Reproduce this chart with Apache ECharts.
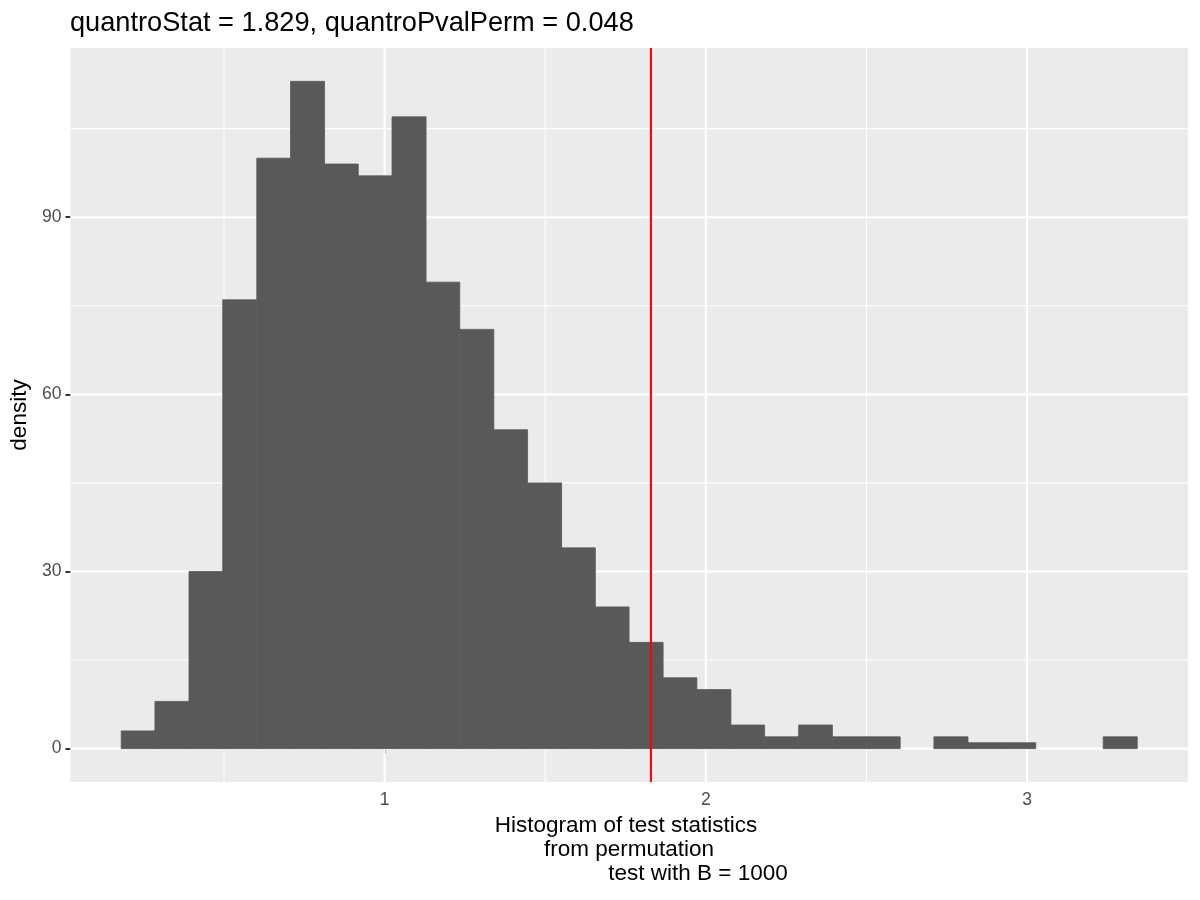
<!DOCTYPE html>
<html>
<head>
<meta charset="utf-8">
<script src="https://cdn.jsdelivr.net/npm/echarts@6/dist/echarts.min.js"></script>
<style>html,body{margin:0;padding:0;background:#fff}#c{width:1200px;height:900px}</style>
</head>
<body>
<div id="c"></div>
<script>
// Histogram bin edges (31 edges -> 30 bins)
const binEdges = [0.180, 0.285, 0.391, 0.496, 0.602, 0.707, 0.813, 0.918, 1.023, 1.129,
  1.234, 1.340, 1.445, 1.551, 1.656, 1.761, 1.867, 1.972, 2.078, 2.183,
  2.289, 2.394, 2.499, 2.605, 2.710, 2.816, 2.921, 3.027, 3.132, 3.237, 3.343];
// Bar heights per bin
const counts = [3, 8, 30, 76, 100, 113, 99, 97, 107, 79,
  71, 54, 45, 34, 24, 18, 12, 10, 4, 2,
  4, 2, 2, 0, 2, 1, 1, 0, 0, 2];
const observedStat = 1.829;
const xTicks = [1, 2, 3];
const xMinor = [0.5, 1.5, 2.5];
const yTicks = [0, 30, 60, 90];
const yMinor = [15, 45, 75, 105];
const titleText = 'quantroStat = 1.829, quantroPvalPerm = 0.048';
const xTitleLines = ['Histogram of test statistics', 'from permutation', 'test with B = 1000'];
const yTitle = 'density';

const FONT = '"Liberation Sans", Arial, Helvetica, sans-serif';
const chart = echarts.init(document.getElementById('c'), null, {renderer: 'canvas'});

const barData = counts.map((c, i) => [binEdges[i], binEdges[i + 1], c]);

// grid line records: [axis(0=x,1=y), value, width]
const gridData = [];
xMinor.forEach(v => gridData.push([0, v, 1.1]));
xTicks.forEach(v => gridData.push([0, v, 2.1]));
yMinor.forEach(v => gridData.push([1, v, 1.1]));
yTicks.forEach(v => gridData.push([1, v, 2.1]));

const option = {
  animation: false,
  textStyle: {fontFamily: FONT},
  title: {
    text: titleText,
    left: 65, top: 5,
    textStyle: {fontFamily: FONT, fontSize: 27.2, fontWeight: 'normal', color: '#000'}
  },
  grid: {
    left: 70, right: 12, top: 48, bottom: 118,
    show: true, backgroundColor: '#EBEBEB', borderWidth: 0
  },
  xAxis: {
    type: 'value', min: 0.022, max: 3.501,
    axisLine: {show: false},
    splitLine: {show: false},
    axisTick: {show: true, length: 5, customValues: xTicks, lineStyle: {color: '#333333', width: 2}},
    axisLabel: {customValues: xTicks, color: '#4D4D4D', fontSize: 17.6, margin: 9, fontFamily: FONT}
  },
  yAxis: {
    type: 'value', min: -5.65, max: 118.65,
    axisLine: {show: false},
    splitLine: {show: false},
    axisTick: {show: true, length: 5, customValues: yTicks, lineStyle: {color: '#333333', width: 2}},
    axisLabel: {customValues: yTicks, color: '#4D4D4D', fontSize: 17.6, margin: 9, fontFamily: FONT},
    name: yTitle, nameLocation: 'middle', nameGap: 36,
    nameTextStyle: {fontSize: 22.5, color: '#000', fontFamily: FONT}
  },
  series: [
    {
      type: 'custom', z: 1, silent: true, clip: true,
      encode: {x: -1, y: -1},
      data: gridData,
      renderItem: function (params, api) {
        const cs = params.coordSys;
        const isX = api.value(0) === 0, v = api.value(1), w = api.value(2);
        let shape;
        if (isX) {
          const px = api.coord([v, 0])[0];
          shape = {x1: px, y1: cs.y, x2: px, y2: cs.y + cs.height};
        } else {
          const py = api.coord([1, v])[1];
          shape = {x1: cs.x, y1: py, x2: cs.x + cs.width, y2: py};
        }
        return {type: 'line', shape: shape, style: {stroke: '#FFFFFF', lineWidth: w}};
      }
    },
    {
      type: 'custom', z: 2, silent: true,
      encode: {x: [0, 1], y: 2},
      data: barData,
      renderItem: function (params, api) {
        const x0 = api.value(0), x1 = api.value(1), c = api.value(2);
        if (!c) return null;
        const p0 = api.coord([x0, c]);
        const p1 = api.coord([x1, 0]);
        return {
          type: 'rect',
          shape: {x: p0[0], y: p0[1], width: p1[0] - p0[0], height: p1[1] - p0[1]},
          style: {fill: '#595959', stroke: '#595959', lineWidth: 0.8}
        };
      }
    },
    {
      type: 'custom', z: 3, silent: true,
      encode: {x: 0, y: -1},
      data: [[observedStat]],
      renderItem: function (params, api) {
        const cs = params.coordSys;
        const px = api.coord([api.value(0), 0])[0];
        return {type: 'line', shape: {x1: px, y1: cs.y, x2: px, y2: cs.y + cs.height},
          style: {stroke: '#FF0000', lineWidth: 2.1}};
      }
    }
  ],
  graphic: [
    {type: 'text', x: 626, y: 826, style: {text: xTitleLines[0], font: '22.5px ' + FONT, fill: '#000', textAlign: 'center', textVerticalAlign: 'middle'}},
    {type: 'text', x: 629, y: 850, style: {text: xTitleLines[1], font: '22.5px ' + FONT, fill: '#000', textAlign: 'center', textVerticalAlign: 'middle'}},
    {type: 'text', x: 698, y: 874, style: {text: xTitleLines[2], font: '22.5px ' + FONT, fill: '#000', textAlign: 'center', textVerticalAlign: 'middle'}}
  ]
};
chart.setOption(option);
</script>
</body>
</html>
